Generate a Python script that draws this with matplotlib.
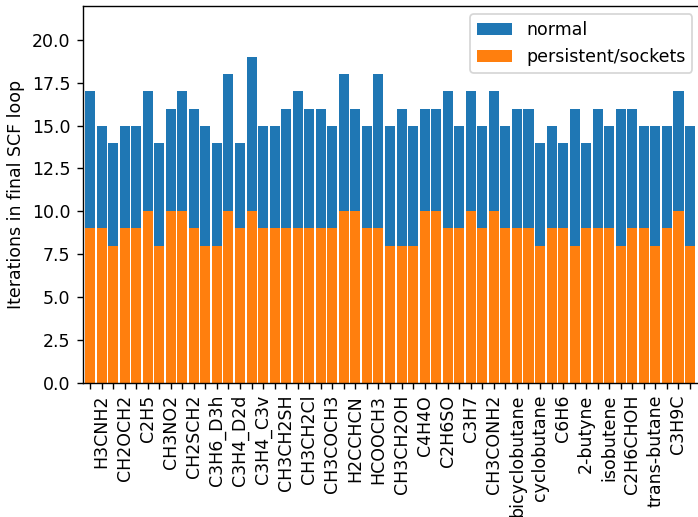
import matplotlib
matplotlib.use("Agg")
import matplotlib.pyplot as plt
import numpy as np

# Iterations in final SCF loop per molecule (53 molecules, every other one labelled)
normal = [17, 15, 14, 15, 15, 17, 14, 16, 17, 16, 15, 14, 18, 14, 19, 15, 15, 16,
          17, 16, 16, 15, 18, 16, 15, 18, 15, 16, 15, 16, 16, 17, 15, 17, 15, 17,
          15, 16, 16, 14, 15, 14, 16, 14, 16, 15, 16, 16, 15, 15, 15, 17, 15]
persistent = [9, 9, 8, 9, 9, 10, 8, 10, 10, 9, 8, 8, 10, 9, 10, 9, 9, 9,
              9, 9, 9, 9, 10, 10, 9, 9, 8, 8, 8, 10, 10, 9, 9, 10, 9, 10,
              9, 9, 9, 8, 9, 9, 8, 9, 9, 9, 8, 9, 9, 8, 9, 10, 8]
shown_labels = ["H3CNH2", "CH2OCH2", "C2H5", "CH3NO2", "CH2SCH2", "C3H6_D3h",
                "C3H4_D2d", "C3H4_C3v", "CH3CH2SH", "CH3CH2Cl", "CH3COCH3",
                "H2CCHCN", "HCOOCH3", "CH3CH2OH", "C4H4O", "C2H6SO", "C3H7",
                "CH3CONH2", "bicyclobutane", "cyclobutane", "C6H6", "2-butyne",
                "isobutene", "C2H6CHOH", "trans-butane", "C3H9C"]

W, H = 698, 517
dpi = 125
fig = plt.figure(figsize=(W / dpi, H / dpi), dpi=dpi)
left_px, right_px, top_px, bottom_px = 82.5, 701.0, 5.7, 382.7
ax = fig.add_axes([left_px / W, (H - bottom_px) / H,
                   (right_px - left_px) / W, (bottom_px - top_px) / H])

x = np.arange(len(normal))
ax.bar(x, normal, width=0.87, color="#1f77b4", label="normal")
ax.bar(x, persistent, width=0.87, color="#ff7f0e", label="persistent/sockets")

labels = [""] * len(normal)
for i, name in enumerate(shown_labels):
    labels[2 * i + 1] = name
ax.set_xticks(x)
ax.set_xticklabels(labels, rotation=90)
ax.set_xlim(-0.65, 52.95)
ax.set_ylim(0, 22)
ax.set_yticks(np.arange(0, 20.1, 2.5))
ax.set_ylabel("Iterations in final SCF loop")
ax.legend(loc="upper right")

fig.savefig("out.png", dpi=dpi)
